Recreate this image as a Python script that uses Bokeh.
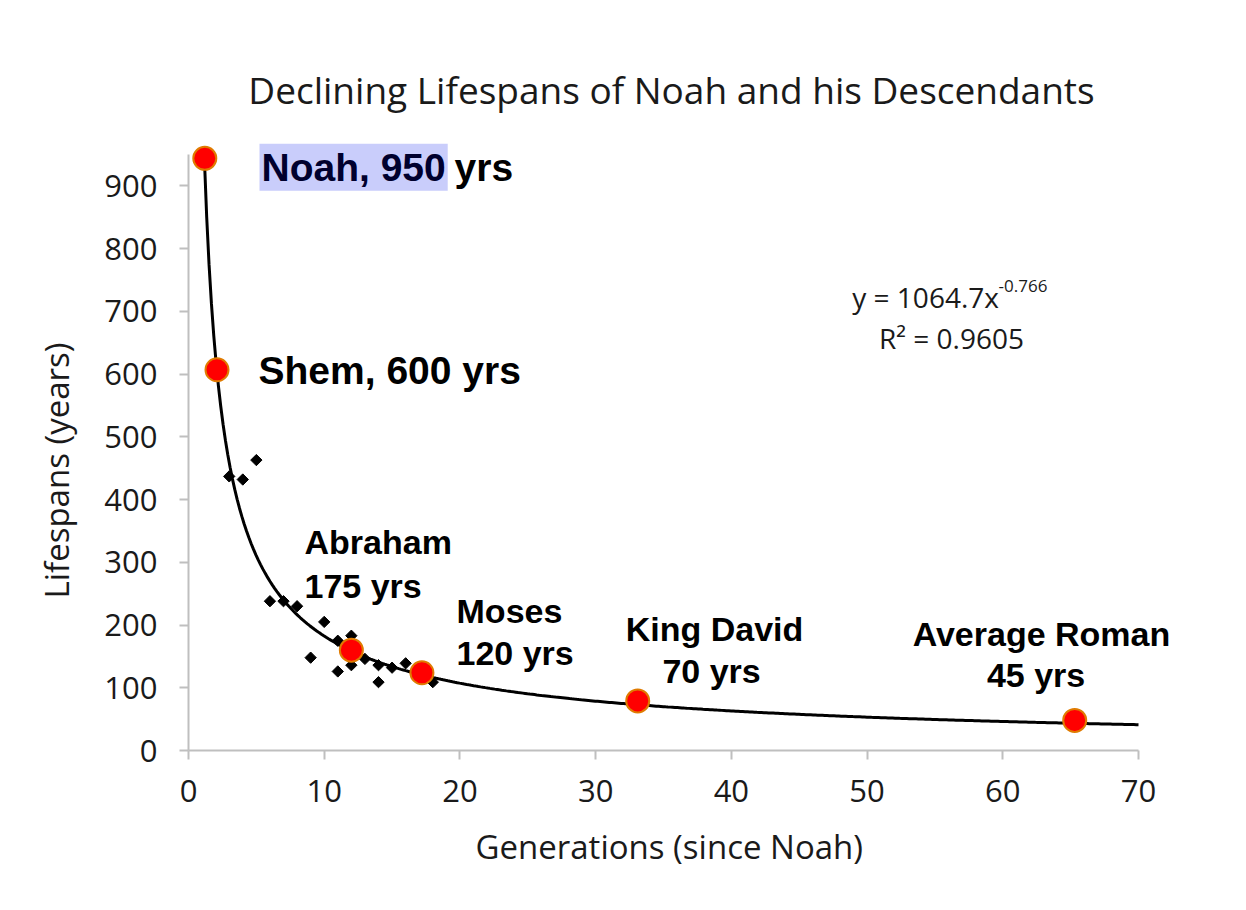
import numpy as np
from bokeh.plotting import figure
from bokeh.models import Label, FixedTicker, Range1d, ColumnDataSource, Title
from bokeh.embed import file_html
from bokeh.resources import INLINE

# ---------------- data ----------------
gen_x = [3, 4, 5, 6, 7, 8, 9, 10, 11, 11, 12, 12, 13, 14, 14, 15, 16, 18]
gen_y = [437, 432, 463, 238, 238, 230, 148, 205, 175, 126, 183, 136, 146, 136, 109, 132, 139, 109]

hi_names = ["Noah", "Shem", "Abraham", "Moses", "King David", "Average Roman"]
hi_x = [1.2, 2.1, 12.0, 17.2, 33.1, 65.3]
hi_y = [944, 607, 160, 124, 79, 48]

# trend line printed on the chart: y = 1064.7 x^-0.766
FIT_A = 1064.7
FIT_B = -0.766
FIT_X_START = 1.17
FIT_X_END = 70

x_ticks = [0, 10, 20, 30, 40, 50, 60, 70]
y_ticks = [0, 100, 200, 300, 400, 500, 600, 700, 800, 900]
X_AXIS_END = 70
Y_AXIS_END = 950

TITLE = "Declining Lifespans of Noah and his Descendants"
X_LABEL = "Generations (since Noah)"
Y_LABEL = "Lifespans (years)"

# ---------------- figure ----------------
p = figure(width=1238, height=902, output_backend="svg", toolbar_location=None,
           x_range=Range1d(0, 77), y_range=Range1d(0, 1100),
           min_border_left=188, min_border_right=5,
           min_border_top=60, min_border_bottom=152)
p.outline_line_color = None
p.background_fill_color = "white"
p.border_fill_color = "white"
p.xgrid.visible = False
p.ygrid.visible = False

AX_COL = "#bfbfbf"
TXT_COL = "#1a1a1a"
for ax, ticks in ((p.xaxis[0], x_ticks), (p.yaxis[0], y_ticks)):
    ax.ticker = FixedTicker(ticks=ticks)
    ax.axis_line_color = AX_COL
    ax.axis_line_width = 2
    ax.major_tick_line_color = AX_COL
    ax.major_tick_line_width = 2
    ax.major_tick_out = 9
    ax.major_tick_in = 0
    ax.minor_tick_line_color = None
    ax.major_label_text_font = "Open Sans"
    ax.major_label_text_font_size = "31px"
    ax.major_label_text_color = TXT_COL

p.xaxis.bounds = (0, X_AXIS_END)
p.yaxis.bounds = (0, Y_AXIS_END)
p.xaxis.major_label_standoff = 20
p.yaxis.major_label_standoff = 22

# axis titles, aligned to the drawn axis extent (not the whole frame)
p.add_layout(Title(text=X_LABEL, align="left", offset=287, standoff=34,
                   text_font="Open Sans", text_font_size="33px",
                   text_font_style="normal", text_color=TXT_COL), "below")
p.add_layout(Title(text=Y_LABEL, align="left", offset=152, standoff=46,
                   text_font="Open Sans", text_font_size="33px",
                   text_font_style="normal", text_color=TXT_COL), "left")

# trend curve
cx = np.linspace(FIT_X_START, FIT_X_END, 400)
cy = FIT_A * cx ** FIT_B
p.line(cx, cy, line_color="black", line_width=3)

# generation points (diamonds)
p.scatter(gen_x, gen_y, marker="square", angle=np.pi / 4, size=8,
          fill_color="black", line_color="black")

# highlighted people
src = ColumnDataSource(dict(x=hi_x, y=hi_y, name=hi_names))
p.scatter("x", "y", source=src, size=23, fill_color="#ff0000",
          line_color="#e07b00", line_width=2)

# ---------------- annotations ----------------
BOLD = "Liberation Sans"

def lab(x, y, text, size, align="left", color="black", font=BOLD, style="bold", **kw):
    l = Label(x=x, y=y, text=text, text_font=font, text_font_size=size,
              text_font_style=style, text_color=color, text_align=align,
              text_baseline="alphabetic", **kw)
    p.add_layout(l)
    return l

# title
lab(35.59, 1054, TITLE, "37px", align="center", color=TXT_COL, font="Open Sans", style="normal")

# Noah (with highlighted part)
lab(5.23, 930, "Noah, 950 yrs", "39px")
lab(5.23, 930, "Noah, 950", "39px", color="#00002e",
    background_fill_color="#c9cdfb", padding=2)

lab(5.16, 606, "Shem, 600 yrs", "39px")

lab(8.55, 332, "Abraham", "34px")
lab(8.55, 262, "175 yrs", "34px")

lab(19.75, 222, "Moses", "34px")
lab(19.75, 155, "120 yrs", "34px")

lab(38.76, 194, "King David", "34px", align="center")
lab(38.54, 127, "70 yrs", "34px", align="center")

lab(62.85, 186, "Average Roman", "34px", align="center")
lab(62.45, 121, "45 yrs", "34px", align="center")

# regression equation
lab(48.91, 723, "y = 1064.7x", "28px", color=TXT_COL, font="Open Sans", style="normal")
lab(59.69, 740, "-0.766", "17px", color=TXT_COL, font="Open Sans", style="normal")
lab(56.22, 657, "R² = 0.9605", "28px", align="center", color=TXT_COL, font="Open Sans", style="normal")

open("out.html", "w").write(file_html(p, INLINE))
